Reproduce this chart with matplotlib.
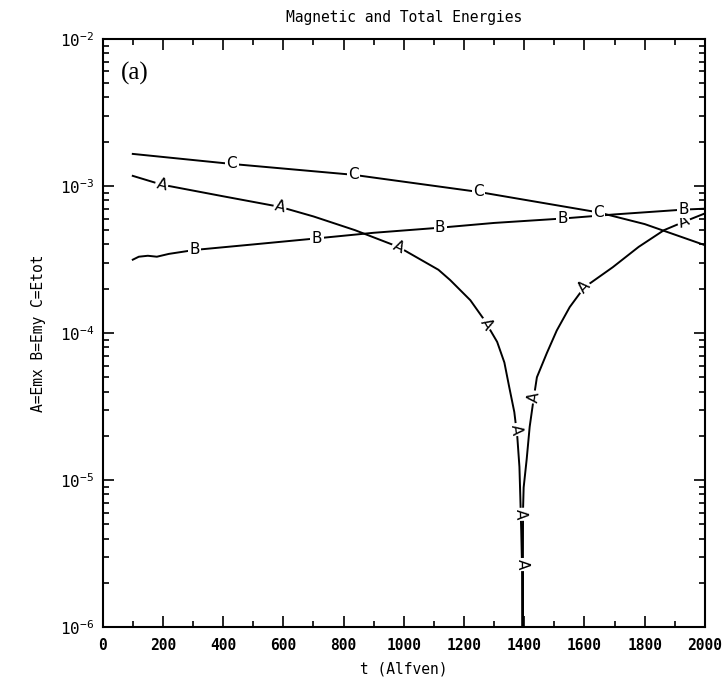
import numpy as np
import matplotlib
matplotlib.use("Agg")
import matplotlib.pyplot as plt
from matplotlib.ticker import LogLocator, MultipleLocator, FixedLocator

plt.rcParams['mathtext.fontset'] = 'custom'
plt.rcParams['mathtext.rm'] = 'DejaVu Sans Mono'
plt.rcParams['mathtext.bf'] = 'DejaVu Sans Mono:bold'

# ---- data ----
A_t = [100, 196, 400, 589, 700, 838, 982, 1115, 1154, 1221, 1267, 1310, 1334, 1350,
       1367, 1377, 1384, 1387, 1390, 1393, 1394, 1395, 1396, 1398, 1408, 1418, 1432,
       1442, 1475, 1508, 1551, 1599, 1694, 1780, 1864, 1930, 2000]
A_v = [1.17e-3, 1.02e-3, 8.5e-4, 7.2e-4, 6.2e-4, 5.0e-4, 3.85e-4, 2.69e-4, 2.29e-4,
       1.67e-4, 1.23e-4, 8.7e-5, 6.3e-5, 4.3e-5, 2.9e-5, 1.96e-5, 1.23e-5, 7.6e-6,
       4.5e-6, 2.4e-6, 8e-7, 8e-7, 6.3e-6, 8.9e-6, 1.38e-5, 2.3e-5, 3.67e-5, 5.0e-5,
       7.3e-5, 1.04e-4, 1.5e-4, 2.04e-4, 2.8e-4, 3.85e-4, 5.0e-4, 5.7e-4, 6.5e-4]

B_t = [100, 120, 150, 180, 220, 306, 500, 712, 900, 1121, 1300, 1527, 1700, 1930, 2000]
B_v = [3.15e-4, 3.3e-4, 3.35e-4, 3.3e-4, 3.45e-4, 3.67e-4, 4.0e-4, 4.4e-4, 4.8e-4,
       5.2e-4, 5.6e-4, 6.0e-4, 6.4e-4, 6.9e-4, 7.0e-4]

C_t = [100, 429, 832, 1248, 1647, 1800, 1993, 2000]
C_v = [1.65e-3, 1.41e-3, 1.19e-3, 9.1e-4, 6.6e-4, 5.5e-4, 4.0e-4, 3.95e-4]

A_label_t = [196, 589, 982, 1275, 1374, 1388.5, 1392.5, 1432, 1599, 1930]
B_label_t = [306, 712, 1121, 1527, 1930]
C_label_t = [429, 832, 1248, 1647]

x_ticks = list(range(0, 2001, 200))
y_ticks = [1e-6, 1e-5, 1e-4, 1e-3, 1e-2]
y_ticklabels = [r'$\mathregular{10^{-6}}$', r'$\mathregular{10^{-5}}$', r'$\mathregular{10^{-4}}$',
                r'$\mathregular{10^{-3}}$', r'$\mathregular{10^{-2}}$']

title = "Magnetic and Total Energies"
xlabel = "t (Alfven)"
ylabel = "A=Emx B=Emy C=Etot"
panel = "(a)"

mono = 'DejaVu Sans Mono'

fig = plt.figure(figsize=(7.23, 6.93), dpi=100)
ax = fig.add_axes([0.142, 0.095, 0.833, 0.849])
ax.set_yscale('log')
ax.set_xlim(0, 2000)
ax.set_ylim(1e-6, 1e-2)

lw = 1.4
ax.plot(A_t, A_v, color='black', lw=lw)
ax.plot(B_t, B_v, color='black', lw=lw)
ax.plot(C_t, C_v, color='black', lw=lw)

fig.canvas.draw()

def put_labels(ts, xs, ys, letter, rotate):
    lx = np.log10(ys)
    for t in ts:
        v = 10 ** np.interp(t, xs, lx)
        if rotate:
            d = 1.0
            p0 = ax.transData.transform((t - d, 10 ** np.interp(t - d, xs, lx)))
            p1 = ax.transData.transform((t + d, 10 ** np.interp(t + d, xs, lx)))
            ang = np.degrees(np.arctan2(p1[1] - p0[1], p1[0] - p0[0]))
        else:
            ang = 0
        ax.text(t, v, letter, ha='center', va='center', rotation=ang,
                rotation_mode='anchor', fontsize=11, family='DejaVu Sans',
                color='black',
                bbox=dict(facecolor='white', edgecolor='none', pad=1.0), zorder=3)

put_labels(A_label_t, A_t, A_v, 'A', True)
put_labels(B_label_t, B_t, B_v, 'B', False)
put_labels(C_label_t, C_t, C_v, 'C', False)

# ticks
ax.xaxis.set_major_locator(FixedLocator(x_ticks))
ax.xaxis.set_minor_locator(MultipleLocator(100))
ax.set_xticklabels([str(v) for v in x_ticks], family=mono, fontsize=10.5, fontweight='bold')
ax.yaxis.set_major_locator(FixedLocator(y_ticks))
ax.yaxis.set_minor_locator(LogLocator(base=10, subs=np.arange(2, 10)))
ax.yaxis.set_minor_formatter(matplotlib.ticker.NullFormatter())
ax.set_yticklabels(y_ticklabels, fontsize=11.5, family=mono)

ax.tick_params(which='both', direction='in', top=True, right=True, width=1.2)
ax.tick_params(which='major', length=8, pad=8)
ax.tick_params(which='minor', length=4.5)
ax.tick_params(axis='y', which='major', pad=6)

for s in ax.spines.values():
    s.set_linewidth(1.5)

ax.set_title(title, family=mono, fontsize=10.5, pad=12)
ax.set_xlabel(xlabel, family=mono, fontsize=10.5, labelpad=6)
ax.set_ylabel(ylabel, family=mono, fontsize=10.5, labelpad=10)

ax.text(0.03, 0.96, panel, transform=ax.transAxes, ha='left', va='top',
        family='Liberation Serif', fontsize=18)

fig.savefig('out.png', dpi=100)
